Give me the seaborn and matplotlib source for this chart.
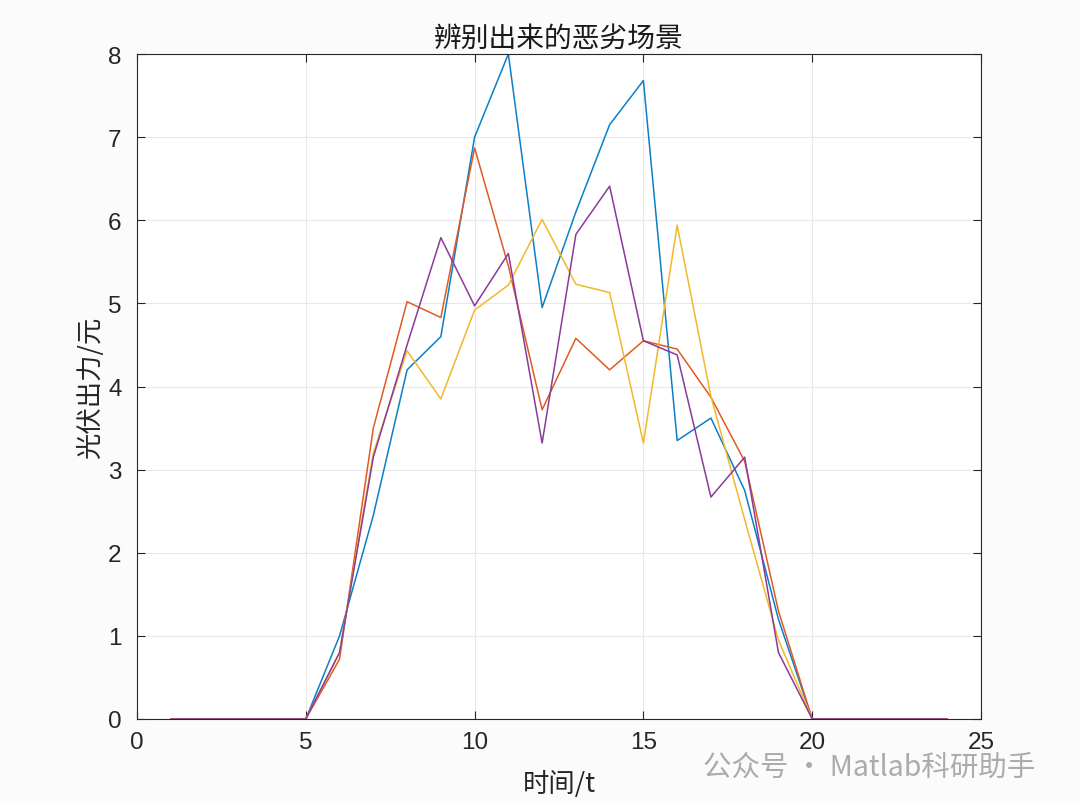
import numpy as np
import pandas as pd
import matplotlib
matplotlib.use("Agg")
import matplotlib.pyplot as plt
import seaborn as sns

hours = list(range(1, 25))
s1 = [0, 0, 0, 0, 0, 1.00, 2.45, 4.20, 4.60, 7.00, 8.00, 4.95, 6.10, 7.15, 7.68, 3.35, 3.62, 2.75, 1.20, 0, 0, 0, 0, 0]
s2 = [0, 0, 0, 0, 0, 0.72, 3.50, 5.02, 4.83, 6.87, 5.45, 3.72, 4.58, 4.20, 4.55, 4.45, 3.87, 3.10, 1.30, 0, 0, 0, 0, 0]
s3 = [0, 0, 0, 0, 0, 0.80, 3.20, 4.43, 3.85, 4.92, 5.22, 6.01, 5.23, 5.13, 3.32, 5.94, 3.88, 2.40, 0.95, 0, 0, 0, 0, 0]
s4 = [0, 0, 0, 0, 0, 0.80, 3.15, 4.50, 5.79, 4.97, 5.60, 3.32, 5.83, 6.41, 4.55, 4.38, 2.67, 3.15, 0.80, 0, 0, 0, 0, 0]
series_names = ["场景1", "场景2", "场景3", "场景4"]
colors = ["#0a7fc9", "#e05a22", "#f2b82a", "#8a3a9a"]
x_ticks = [0, 5, 10, 15, 20, 25]
y_ticks = [0, 1, 2, 3, 4, 5, 6, 7, 8]

df = pd.DataFrame({
    "t": hours * 4,
    "v": s1 + s2 + s3 + s4,
    "s": sum([[n] * len(hours) for n in series_names], []),
})

sns.set_theme(style="white")
plt.rcParams['font.family'] = ['Noto Sans CJK SC', 'DejaVu Sans']

fig = plt.figure(figsize=(10.8, 8.04), dpi=100, facecolor="#fbfbfb")
ax = fig.add_axes([137/1080, 1 - 720/804, (981-137)/1080, (720-55)/804])
ax.set_facecolor("white")

sns.lineplot(data=df, x="t", y="v", hue="s", palette=colors, linewidth=1.1,
             legend=False, ax=ax, estimator=None, sort=False)

ax.set_xlim(0, 25)
ax.set_ylim(0, 8)
ax.set_xticks(x_ticks)
ax.set_yticks(y_ticks)
ax.grid(True, color="#e8e8e8", linewidth=0.8)
ax.set_axisbelow(True)
for sp in ax.spines.values():
    sp.set_color("#262626")
    sp.set_linewidth(0.8)
ax.tick_params(axis="both", direction="in", length=6, width=0.8, colors="#262626",
               top=True, right=True, bottom=True, left=True)
ax.tick_params(axis="x", pad=9)
ax.tick_params(axis="y", pad=11)
for lab in ax.get_xticklabels() + ax.get_yticklabels():
    lab.set_color("#262626")
    lab.set_fontfamily(["Liberation Sans", "DejaVu Sans"])
    lab.set_fontsize(17.5)

ax.set_title("辨别出来的恶劣场景", fontsize=20, color="#1a1a1a", pad=6)
ax.set_xlabel("时间/t", fontsize=19, color="#262626", labelpad=12)
ax.set_ylabel("光伏出力/元", fontsize=19, color="#262626", labelpad=3)

fig.text(703/1080, 1 - 768/804, "公众号 · Matlab科研助手", fontsize=20.5,
         color="#ababab", ha="left", va="center")

fig.savefig("out.png", dpi=100, facecolor=fig.get_facecolor())
